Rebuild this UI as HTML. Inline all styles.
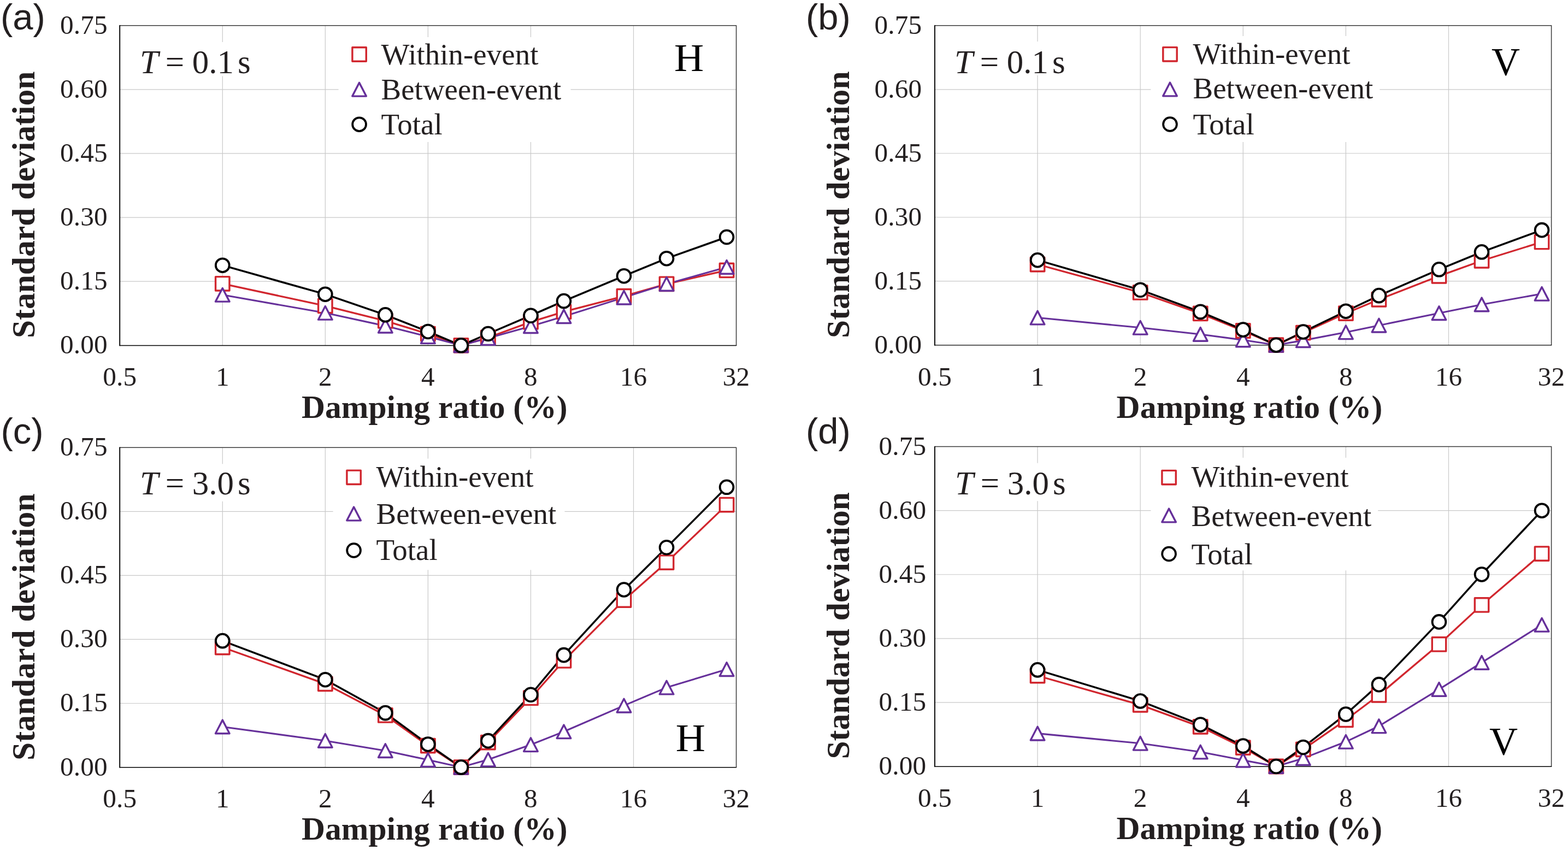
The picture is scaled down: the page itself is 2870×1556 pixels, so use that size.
<!DOCTYPE html>
<html><head><meta charset="utf-8"><title>Standard deviation vs damping ratio</title><style>
html,body{margin:0;padding:0;background:#fff;}
body{width:2870px;height:1556px;overflow:hidden;}
svg{display:block;}
text{fill:#231f20;}
.tk{font-family:"Liberation Serif","Times New Roman",serif;font-size:49.3px;letter-spacing:0.1px;}
.lg{font-family:"Liberation Serif","Times New Roman",serif;font-size:55px;}
.ti{font-family:"Liberation Serif","Times New Roman",serif;font-size:59.6px;font-weight:bold;}
.pl{font-family:"Liberation Sans",Arial,sans-serif;font-size:67px;}
.an{font-family:"Liberation Serif","Times New Roman",serif;font-size:61px;}
.hv{font-family:"Liberation Serif","Times New Roman",serif;font-size:72px;fill:#000;}
</style></head><body>
<svg width="2870" height="1556" viewBox="0 0 2870 1556">
<rect width="2870" height="1556" fill="#fff"/>
<g stroke="#c8c8c8" stroke-width="1.2"><line x1="407.27" y1="46.75" x2="407.27" y2="632.3"/><line x1="595.33" y1="46.75" x2="595.33" y2="632.3"/><line x1="783.4" y1="46.75" x2="783.4" y2="632.3"/><line x1="971.47" y1="46.75" x2="971.47" y2="632.3"/><line x1="1159.53" y1="46.75" x2="1159.53" y2="632.3"/><line x1="219.2" y1="515.19" x2="1347.6" y2="515.19"/><line x1="219.2" y1="398.08" x2="1347.6" y2="398.08"/><line x1="219.2" y1="280.97" x2="1347.6" y2="280.97"/><line x1="219.2" y1="163.86" x2="1347.6" y2="163.86"/></g>
<rect x="619.6" y="68" width="425" height="192" fill="#fff"/>
<rect x="250" y="77" width="220" height="62.4" fill="#fff"/>
<path d="M219.2,46.75 H1347.6 V632.5" fill="none" stroke="#3a3a3a" stroke-width="1.5" stroke-linejoin="round"/>
<path d="M219.2,632.5 H1347.6" fill="none" stroke="#000000" stroke-width="1.4" stroke-linecap="round"/>
<path d="M219.2,46.75 V632.5" fill="none" stroke="#000000" stroke-width="1.9" stroke-linecap="round"/>
<polyline points="407.27,519.33 595.33,559.93 705.35,587.41 783.4,611.22 843.94,632.3 893.41,618.01 971.47,589.36 1032.01,570.62 1142.02,542.2 1220.08,519.8 1330.09,494.89" fill="none" stroke="#d1262e" stroke-width="3.3" stroke-linejoin="round"/>
<polyline points="407.27,539.78 595.33,572.81 705.35,596.62 783.4,616.29 843.94,632.3 893.41,619.03 971.47,597.17 1032.01,579.21 1142.02,544.62 1220.08,519.87 1330.09,488.96" fill="none" stroke="#66309a" stroke-width="3.1" stroke-linejoin="round"/>
<polyline points="407.27,485.68 595.33,538.69 705.35,576.32 783.4,606.93 843.94,632.3 893.41,610.99 971.47,577.73 1032.01,551.1 1142.02,505.2 1220.08,473.19 1330.09,433.99" fill="none" stroke="#000000" stroke-width="3.5" stroke-linejoin="round"/>
<rect x="394.57" y="506.63" width="25.4" height="25.4" fill="#fff" stroke="#d1262e" stroke-width="3.4" stroke-linejoin="round"/>
<rect x="582.63" y="547.23" width="25.4" height="25.4" fill="#fff" stroke="#d1262e" stroke-width="3.4" stroke-linejoin="round"/>
<rect x="692.65" y="574.71" width="25.4" height="25.4" fill="#fff" stroke="#d1262e" stroke-width="3.4" stroke-linejoin="round"/>
<rect x="770.7" y="598.52" width="25.4" height="25.4" fill="#fff" stroke="#d1262e" stroke-width="3.4" stroke-linejoin="round"/>
<rect x="831.24" y="619.6" width="25.4" height="25.4" fill="#fff" stroke="#d1262e" stroke-width="3.4" stroke-linejoin="round"/>
<rect x="880.71" y="605.31" width="25.4" height="25.4" fill="#fff" stroke="#d1262e" stroke-width="3.4" stroke-linejoin="round"/>
<rect x="958.77" y="576.66" width="25.4" height="25.4" fill="#fff" stroke="#d1262e" stroke-width="3.4" stroke-linejoin="round"/>
<rect x="1019.31" y="557.92" width="25.4" height="25.4" fill="#fff" stroke="#d1262e" stroke-width="3.4" stroke-linejoin="round"/>
<rect x="1129.32" y="529.5" width="25.4" height="25.4" fill="#fff" stroke="#d1262e" stroke-width="3.4" stroke-linejoin="round"/>
<rect x="1207.38" y="507.1" width="25.4" height="25.4" fill="#fff" stroke="#d1262e" stroke-width="3.4" stroke-linejoin="round"/>
<rect x="1317.39" y="482.19" width="25.4" height="25.4" fill="#fff" stroke="#d1262e" stroke-width="3.4" stroke-linejoin="round"/>
<path d="M407.27,527.43 L420.07,552.13 L394.47,552.13 Z" fill="#fff" stroke="#66309a" stroke-width="3.4" stroke-linejoin="round"/>
<path d="M595.33,560.46 L608.13,585.16 L582.53,585.16 Z" fill="#fff" stroke="#66309a" stroke-width="3.4" stroke-linejoin="round"/>
<path d="M705.35,584.27 L718.15,608.97 L692.55,608.97 Z" fill="#fff" stroke="#66309a" stroke-width="3.4" stroke-linejoin="round"/>
<path d="M783.4,603.94 L796.2,628.64 L770.6,628.64 Z" fill="#fff" stroke="#66309a" stroke-width="3.4" stroke-linejoin="round"/>
<path d="M843.94,619.95 L856.74,644.65 L831.14,644.65 Z" fill="#fff" stroke="#66309a" stroke-width="3.4" stroke-linejoin="round"/>
<path d="M893.41,606.68 L906.21,631.38 L880.61,631.38 Z" fill="#fff" stroke="#66309a" stroke-width="3.4" stroke-linejoin="round"/>
<path d="M971.47,584.82 L984.27,609.52 L958.67,609.52 Z" fill="#fff" stroke="#66309a" stroke-width="3.4" stroke-linejoin="round"/>
<path d="M1032.01,566.86 L1044.81,591.56 L1019.21,591.56 Z" fill="#fff" stroke="#66309a" stroke-width="3.4" stroke-linejoin="round"/>
<path d="M1142.02,532.27 L1154.82,556.97 L1129.22,556.97 Z" fill="#fff" stroke="#66309a" stroke-width="3.4" stroke-linejoin="round"/>
<path d="M1220.08,507.52 L1232.88,532.22 L1207.28,532.22 Z" fill="#fff" stroke="#66309a" stroke-width="3.4" stroke-linejoin="round"/>
<path d="M1330.09,476.61 L1342.89,501.31 L1317.29,501.31 Z" fill="#fff" stroke="#66309a" stroke-width="3.4" stroke-linejoin="round"/>
<circle cx="407.27" cy="485.68" r="12.4" fill="#fff" stroke="#000000" stroke-width="3.8"/>
<circle cx="595.33" cy="538.69" r="12.4" fill="#fff" stroke="#000000" stroke-width="3.8"/>
<circle cx="705.35" cy="576.32" r="12.4" fill="#fff" stroke="#000000" stroke-width="3.8"/>
<circle cx="783.4" cy="606.93" r="12.4" fill="#fff" stroke="#000000" stroke-width="3.8"/>
<circle cx="843.94" cy="632.3" r="12.4" fill="#fff" stroke="#000000" stroke-width="3.8"/>
<circle cx="893.41" cy="610.99" r="12.4" fill="#fff" stroke="#000000" stroke-width="3.8"/>
<circle cx="971.47" cy="577.73" r="12.4" fill="#fff" stroke="#000000" stroke-width="3.8"/>
<circle cx="1032.01" cy="551.1" r="12.4" fill="#fff" stroke="#000000" stroke-width="3.8"/>
<circle cx="1142.02" cy="505.2" r="12.4" fill="#fff" stroke="#000000" stroke-width="3.8"/>
<circle cx="1220.08" cy="473.19" r="12.4" fill="#fff" stroke="#000000" stroke-width="3.8"/>
<circle cx="1330.09" cy="433.99" r="12.4" fill="#fff" stroke="#000000" stroke-width="3.8"/>
<rect x="644.9" y="86.8" width="25.4" height="25.4" fill="#fff" stroke="#d1262e" stroke-width="3.4" stroke-linejoin="round"/>
<path d="M657.6,151.4 L670.4,176.1 L644.8,176.1 Z" fill="#fff" stroke="#66309a" stroke-width="3.4" stroke-linejoin="round"/>
<circle cx="657.6" cy="227.7" r="12.4" fill="#fff" stroke="#000000" stroke-width="3.8"/>
<text x="697.5" y="118.3" class="lg">Within-event</text>
<text x="697.5" y="181.6" class="lg">Between-event</text>
<text x="697.5" y="246.3" class="lg">Total</text>
<text x="110" y="647.2" class="tk">0.00</text>
<text x="110" y="530.09" class="tk">0.15</text>
<text x="110" y="412.98" class="tk">0.30</text>
<text x="110" y="295.87" class="tk">0.45</text>
<text x="110" y="178.76" class="tk">0.60</text>
<text x="110" y="61.65" class="tk">0.75</text>
<text x="219.2" y="705.7" class="tk" text-anchor="middle">0.5</text>
<text x="407.27" y="705.7" class="tk" text-anchor="middle">1</text>
<text x="595.33" y="705.7" class="tk" text-anchor="middle">2</text>
<text x="783.4" y="705.7" class="tk" text-anchor="middle">4</text>
<text x="971.47" y="705.7" class="tk" text-anchor="middle">8</text>
<text x="1159.53" y="705.7" class="tk" text-anchor="middle">16</text>
<text x="1347.6" y="705.7" class="tk" text-anchor="middle">32</text>
<text x="552" y="765" class="ti">Damping ratio (%)</text>
<text transform="translate(62.7,619.1) rotate(-90)" class="ti">Standard deviation</text>
<text x="1" y="54.1" class="pl">(a)</text>
<text x="256" y="133.8" class="an"><tspan font-style="italic">T</tspan></text>
<text x="302.7" y="133.8" class="an">=</text>
<text x="351.8" y="133.8" class="an">0.1</text>
<text x="434.9" y="133.8" class="an">s</text>
<text x="1233.9" y="129.7" class="hv" textLength="54.3" lengthAdjust="spacingAndGlyphs">H</text>
<g stroke="#c8c8c8" stroke-width="1.2"><line x1="1899.1" y1="46.8" x2="1899.1" y2="631.7"/><line x1="2087.2" y1="46.8" x2="2087.2" y2="631.7"/><line x1="2275.3" y1="46.8" x2="2275.3" y2="631.7"/><line x1="2463.4" y1="46.8" x2="2463.4" y2="631.7"/><line x1="2651.5" y1="46.8" x2="2651.5" y2="631.7"/><line x1="1711" y1="514.72" x2="2839.6" y2="514.72"/><line x1="1711" y1="397.74" x2="2839.6" y2="397.74"/><line x1="1711" y1="280.76" x2="2839.6" y2="280.76"/><line x1="1711" y1="163.78" x2="2839.6" y2="163.78"/></g>
<rect x="2106.4" y="66" width="419" height="194" fill="#fff"/>
<rect x="1742" y="76" width="220" height="62" fill="#fff"/>
<path d="M1711,46.8 H2839.6 V631.9" fill="none" stroke="#3a3a3a" stroke-width="1.5" stroke-linejoin="round"/>
<path d="M1711,631.9 H2839.6" fill="none" stroke="#000000" stroke-width="1.4" stroke-linecap="round"/>
<path d="M1711,46.8 V631.9" fill="none" stroke="#000000" stroke-width="1.9" stroke-linecap="round"/>
<polyline points="1899.1,483.99 2087.2,535.46 2197.23,573.91 2275.3,605.5 2335.85,631.7 2385.33,609.08 2463.4,573.6 2523.95,548.25 2633.99,505.36 2712.05,477.29 2822.09,442.97" fill="none" stroke="#d1262e" stroke-width="3.3" stroke-linejoin="round"/>
<polyline points="1899.1,581.55 2087.2,599.8 2197.23,611.97 2275.3,622.34 2335.85,631.7 2385.33,623.12 2463.4,608.3 2523.95,595.67 2633.99,573.21 2712.05,557.46 2822.09,537.8" fill="none" stroke="#66309a" stroke-width="3.1" stroke-linejoin="round"/>
<polyline points="1899.1,476.19 2087.2,530.71 2197.23,570.79 2275.3,603.62 2335.85,631.7 2385.33,607.52 2463.4,569.7 2523.95,541.08 2633.99,493.27 2712.05,461.3 2822.09,421.14" fill="none" stroke="#000000" stroke-width="3.5" stroke-linejoin="round"/>
<rect x="1886.4" y="471.29" width="25.4" height="25.4" fill="#fff" stroke="#d1262e" stroke-width="3.4" stroke-linejoin="round"/>
<rect x="2074.5" y="522.76" width="25.4" height="25.4" fill="#fff" stroke="#d1262e" stroke-width="3.4" stroke-linejoin="round"/>
<rect x="2184.53" y="561.21" width="25.4" height="25.4" fill="#fff" stroke="#d1262e" stroke-width="3.4" stroke-linejoin="round"/>
<rect x="2262.6" y="592.8" width="25.4" height="25.4" fill="#fff" stroke="#d1262e" stroke-width="3.4" stroke-linejoin="round"/>
<rect x="2323.15" y="619" width="25.4" height="25.4" fill="#fff" stroke="#d1262e" stroke-width="3.4" stroke-linejoin="round"/>
<rect x="2372.63" y="596.38" width="25.4" height="25.4" fill="#fff" stroke="#d1262e" stroke-width="3.4" stroke-linejoin="round"/>
<rect x="2450.7" y="560.9" width="25.4" height="25.4" fill="#fff" stroke="#d1262e" stroke-width="3.4" stroke-linejoin="round"/>
<rect x="2511.25" y="535.55" width="25.4" height="25.4" fill="#fff" stroke="#d1262e" stroke-width="3.4" stroke-linejoin="round"/>
<rect x="2621.29" y="492.66" width="25.4" height="25.4" fill="#fff" stroke="#d1262e" stroke-width="3.4" stroke-linejoin="round"/>
<rect x="2699.35" y="464.59" width="25.4" height="25.4" fill="#fff" stroke="#d1262e" stroke-width="3.4" stroke-linejoin="round"/>
<rect x="2809.39" y="430.27" width="25.4" height="25.4" fill="#fff" stroke="#d1262e" stroke-width="3.4" stroke-linejoin="round"/>
<path d="M1899.1,569.2 L1911.9,593.9 L1886.3,593.9 Z" fill="#fff" stroke="#66309a" stroke-width="3.4" stroke-linejoin="round"/>
<path d="M2087.2,587.45 L2100,612.15 L2074.4,612.15 Z" fill="#fff" stroke="#66309a" stroke-width="3.4" stroke-linejoin="round"/>
<path d="M2197.23,599.62 L2210.03,624.32 L2184.43,624.32 Z" fill="#fff" stroke="#66309a" stroke-width="3.4" stroke-linejoin="round"/>
<path d="M2275.3,609.99 L2288.1,634.69 L2262.5,634.69 Z" fill="#fff" stroke="#66309a" stroke-width="3.4" stroke-linejoin="round"/>
<path d="M2335.85,619.35 L2348.65,644.05 L2323.05,644.05 Z" fill="#fff" stroke="#66309a" stroke-width="3.4" stroke-linejoin="round"/>
<path d="M2385.33,610.77 L2398.13,635.47 L2372.53,635.47 Z" fill="#fff" stroke="#66309a" stroke-width="3.4" stroke-linejoin="round"/>
<path d="M2463.4,595.95 L2476.2,620.65 L2450.6,620.65 Z" fill="#fff" stroke="#66309a" stroke-width="3.4" stroke-linejoin="round"/>
<path d="M2523.95,583.32 L2536.75,608.02 L2511.15,608.02 Z" fill="#fff" stroke="#66309a" stroke-width="3.4" stroke-linejoin="round"/>
<path d="M2633.99,560.86 L2646.79,585.56 L2621.19,585.56 Z" fill="#fff" stroke="#66309a" stroke-width="3.4" stroke-linejoin="round"/>
<path d="M2712.05,545.11 L2724.85,569.81 L2699.25,569.81 Z" fill="#fff" stroke="#66309a" stroke-width="3.4" stroke-linejoin="round"/>
<path d="M2822.09,525.45 L2834.89,550.15 L2809.29,550.15 Z" fill="#fff" stroke="#66309a" stroke-width="3.4" stroke-linejoin="round"/>
<circle cx="1899.1" cy="476.19" r="12.4" fill="#fff" stroke="#000000" stroke-width="3.8"/>
<circle cx="2087.2" cy="530.71" r="12.4" fill="#fff" stroke="#000000" stroke-width="3.8"/>
<circle cx="2197.23" cy="570.79" r="12.4" fill="#fff" stroke="#000000" stroke-width="3.8"/>
<circle cx="2275.3" cy="603.62" r="12.4" fill="#fff" stroke="#000000" stroke-width="3.8"/>
<circle cx="2335.85" cy="631.7" r="12.4" fill="#fff" stroke="#000000" stroke-width="3.8"/>
<circle cx="2385.33" cy="607.52" r="12.4" fill="#fff" stroke="#000000" stroke-width="3.8"/>
<circle cx="2463.4" cy="569.7" r="12.4" fill="#fff" stroke="#000000" stroke-width="3.8"/>
<circle cx="2523.95" cy="541.08" r="12.4" fill="#fff" stroke="#000000" stroke-width="3.8"/>
<circle cx="2633.99" cy="493.27" r="12.4" fill="#fff" stroke="#000000" stroke-width="3.8"/>
<circle cx="2712.05" cy="461.3" r="12.4" fill="#fff" stroke="#000000" stroke-width="3.8"/>
<circle cx="2822.09" cy="421.14" r="12.4" fill="#fff" stroke="#000000" stroke-width="3.8"/>
<rect x="2128.8" y="86.6" width="25.4" height="25.4" fill="#fff" stroke="#d1262e" stroke-width="3.4" stroke-linejoin="round"/>
<path d="M2141.5,151.15 L2154.3,175.85 L2128.7,175.85 Z" fill="#fff" stroke="#66309a" stroke-width="3.4" stroke-linejoin="round"/>
<circle cx="2141.5" cy="227.5" r="12.4" fill="#fff" stroke="#000000" stroke-width="3.8"/>
<text x="2183.5" y="116.8" class="lg">Within-event</text>
<text x="2183.5" y="180.4" class="lg">Between-event</text>
<text x="2183.5" y="245.6" class="lg">Total</text>
<text x="1600.5" y="646.6" class="tk">0.00</text>
<text x="1600.5" y="529.62" class="tk">0.15</text>
<text x="1600.5" y="412.64" class="tk">0.30</text>
<text x="1600.5" y="295.66" class="tk">0.45</text>
<text x="1600.5" y="178.68" class="tk">0.60</text>
<text x="1600.5" y="61.7" class="tk">0.75</text>
<text x="1711" y="705.8" class="tk" text-anchor="middle">0.5</text>
<text x="1899.1" y="705.8" class="tk" text-anchor="middle">1</text>
<text x="2087.2" y="705.8" class="tk" text-anchor="middle">2</text>
<text x="2275.3" y="705.8" class="tk" text-anchor="middle">4</text>
<text x="2463.4" y="705.8" class="tk" text-anchor="middle">8</text>
<text x="2651.5" y="705.8" class="tk" text-anchor="middle">16</text>
<text x="2839.6" y="705.8" class="tk" text-anchor="middle">32</text>
<text x="2043.6" y="764.6" class="ti">Damping ratio (%)</text>
<text transform="translate(1553.6,618.9) rotate(-90)" class="ti">Standard deviation</text>
<text x="1475" y="53.6" class="pl">(b)</text>
<text x="1747" y="133.5" class="an"><tspan font-style="italic">T</tspan></text>
<text x="1793.7" y="133.5" class="an">=</text>
<text x="1842.8" y="133.5" class="an">0.1</text>
<text x="1925.9" y="133.5" class="an">s</text>
<text x="2730" y="137.2" class="hv">V</text>
<g stroke="#c8c8c8" stroke-width="1.2"><line x1="407.27" y1="819.2" x2="407.27" y2="1404.6"/><line x1="595.33" y1="819.2" x2="595.33" y2="1404.6"/><line x1="783.4" y1="819.2" x2="783.4" y2="1404.6"/><line x1="971.47" y1="819.2" x2="971.47" y2="1404.6"/><line x1="1159.53" y1="819.2" x2="1159.53" y2="1404.6"/><line x1="219.2" y1="1287.52" x2="1347.6" y2="1287.52"/><line x1="219.2" y1="1170.44" x2="1347.6" y2="1170.44"/><line x1="219.2" y1="1053.36" x2="1347.6" y2="1053.36"/><line x1="219.2" y1="936.28" x2="1347.6" y2="936.28"/></g>
<rect x="609.6" y="839.6" width="423.9" height="203.7" fill="#fff"/>
<rect x="250" y="849.3" width="220" height="68.5" fill="#fff"/>
<path d="M219.2,819.2 H1347.6 V1404.8" fill="none" stroke="#3a3a3a" stroke-width="1.5" stroke-linejoin="round"/>
<path d="M219.2,1404.8 H1347.6" fill="none" stroke="#000000" stroke-width="1.4" stroke-linecap="round"/>
<path d="M219.2,819.2 V1404.8" fill="none" stroke="#000000" stroke-width="1.9" stroke-linecap="round"/>
<polyline points="407.27,1185.04 595.33,1251.85 705.35,1309.45 783.4,1365.03 843.94,1404.6 893.41,1359.09 971.47,1277.69 1032.01,1209.39 1142.02,1098.55 1220.08,1029.55 1330.09,924.1" fill="none" stroke="#d1262e" stroke-width="3.3" stroke-linejoin="round"/>
<polyline points="407.27,1330.45 595.33,1355.97 705.35,1374.16 783.4,1391.02 843.94,1404.6 893.41,1390.55 971.47,1363.23 1032.01,1339.27 1142.02,1291.58 1220.08,1258.56 1330.09,1225.16" fill="none" stroke="#66309a" stroke-width="3.1" stroke-linejoin="round"/>
<polyline points="407.27,1173.09 595.33,1244.2 705.35,1305.08 783.4,1362.45 843.94,1404.6 893.41,1356.13 971.47,1271.75 1032.01,1199.16 1142.02,1079.43 1220.08,1002.24 1330.09,891.79" fill="none" stroke="#000000" stroke-width="3.5" stroke-linejoin="round"/>
<rect x="394.57" y="1172.34" width="25.4" height="25.4" fill="#fff" stroke="#d1262e" stroke-width="3.4" stroke-linejoin="round"/>
<rect x="582.63" y="1239.15" width="25.4" height="25.4" fill="#fff" stroke="#d1262e" stroke-width="3.4" stroke-linejoin="round"/>
<rect x="692.65" y="1296.75" width="25.4" height="25.4" fill="#fff" stroke="#d1262e" stroke-width="3.4" stroke-linejoin="round"/>
<rect x="770.7" y="1352.33" width="25.4" height="25.4" fill="#fff" stroke="#d1262e" stroke-width="3.4" stroke-linejoin="round"/>
<rect x="831.24" y="1391.9" width="25.4" height="25.4" fill="#fff" stroke="#d1262e" stroke-width="3.4" stroke-linejoin="round"/>
<rect x="880.71" y="1346.39" width="25.4" height="25.4" fill="#fff" stroke="#d1262e" stroke-width="3.4" stroke-linejoin="round"/>
<rect x="958.77" y="1264.99" width="25.4" height="25.4" fill="#fff" stroke="#d1262e" stroke-width="3.4" stroke-linejoin="round"/>
<rect x="1019.31" y="1196.69" width="25.4" height="25.4" fill="#fff" stroke="#d1262e" stroke-width="3.4" stroke-linejoin="round"/>
<rect x="1129.32" y="1085.85" width="25.4" height="25.4" fill="#fff" stroke="#d1262e" stroke-width="3.4" stroke-linejoin="round"/>
<rect x="1207.38" y="1016.85" width="25.4" height="25.4" fill="#fff" stroke="#d1262e" stroke-width="3.4" stroke-linejoin="round"/>
<rect x="1317.39" y="911.4" width="25.4" height="25.4" fill="#fff" stroke="#d1262e" stroke-width="3.4" stroke-linejoin="round"/>
<path d="M407.27,1318.1 L420.07,1342.8 L394.47,1342.8 Z" fill="#fff" stroke="#66309a" stroke-width="3.4" stroke-linejoin="round"/>
<path d="M595.33,1343.62 L608.13,1368.32 L582.53,1368.32 Z" fill="#fff" stroke="#66309a" stroke-width="3.4" stroke-linejoin="round"/>
<path d="M705.35,1361.81 L718.15,1386.51 L692.55,1386.51 Z" fill="#fff" stroke="#66309a" stroke-width="3.4" stroke-linejoin="round"/>
<path d="M783.4,1378.67 L796.2,1403.37 L770.6,1403.37 Z" fill="#fff" stroke="#66309a" stroke-width="3.4" stroke-linejoin="round"/>
<path d="M843.94,1392.25 L856.74,1416.95 L831.14,1416.95 Z" fill="#fff" stroke="#66309a" stroke-width="3.4" stroke-linejoin="round"/>
<path d="M893.41,1378.2 L906.21,1402.9 L880.61,1402.9 Z" fill="#fff" stroke="#66309a" stroke-width="3.4" stroke-linejoin="round"/>
<path d="M971.47,1350.88 L984.27,1375.58 L958.67,1375.58 Z" fill="#fff" stroke="#66309a" stroke-width="3.4" stroke-linejoin="round"/>
<path d="M1032.01,1326.92 L1044.81,1351.62 L1019.21,1351.62 Z" fill="#fff" stroke="#66309a" stroke-width="3.4" stroke-linejoin="round"/>
<path d="M1142.02,1279.23 L1154.82,1303.93 L1129.22,1303.93 Z" fill="#fff" stroke="#66309a" stroke-width="3.4" stroke-linejoin="round"/>
<path d="M1220.08,1246.21 L1232.88,1270.91 L1207.28,1270.91 Z" fill="#fff" stroke="#66309a" stroke-width="3.4" stroke-linejoin="round"/>
<path d="M1330.09,1212.81 L1342.89,1237.51 L1317.29,1237.51 Z" fill="#fff" stroke="#66309a" stroke-width="3.4" stroke-linejoin="round"/>
<circle cx="407.27" cy="1173.09" r="12.4" fill="#fff" stroke="#000000" stroke-width="3.8"/>
<circle cx="595.33" cy="1244.2" r="12.4" fill="#fff" stroke="#000000" stroke-width="3.8"/>
<circle cx="705.35" cy="1305.08" r="12.4" fill="#fff" stroke="#000000" stroke-width="3.8"/>
<circle cx="783.4" cy="1362.45" r="12.4" fill="#fff" stroke="#000000" stroke-width="3.8"/>
<circle cx="843.94" cy="1404.6" r="12.4" fill="#fff" stroke="#000000" stroke-width="3.8"/>
<circle cx="893.41" cy="1356.13" r="12.4" fill="#fff" stroke="#000000" stroke-width="3.8"/>
<circle cx="971.47" cy="1271.75" r="12.4" fill="#fff" stroke="#000000" stroke-width="3.8"/>
<circle cx="1032.01" cy="1199.16" r="12.4" fill="#fff" stroke="#000000" stroke-width="3.8"/>
<circle cx="1142.02" cy="1079.43" r="12.4" fill="#fff" stroke="#000000" stroke-width="3.8"/>
<circle cx="1220.08" cy="1002.24" r="12.4" fill="#fff" stroke="#000000" stroke-width="3.8"/>
<circle cx="1330.09" cy="891.79" r="12.4" fill="#fff" stroke="#000000" stroke-width="3.8"/>
<rect x="634.9" y="861.1" width="25.4" height="25.4" fill="#fff" stroke="#d1262e" stroke-width="3.4" stroke-linejoin="round"/>
<path d="M647.6,928.15 L660.4,952.85 L634.8,952.85 Z" fill="#fff" stroke="#66309a" stroke-width="3.4" stroke-linejoin="round"/>
<circle cx="647.6" cy="1007.5" r="12.4" fill="#fff" stroke="#000000" stroke-width="3.8"/>
<text x="688.5" y="891.1" class="lg">Within-event</text>
<text x="688.5" y="958.6" class="lg">Between-event</text>
<text x="688.5" y="1025.4" class="lg">Total</text>
<text x="110" y="1419.5" class="tk">0.00</text>
<text x="110" y="1302.42" class="tk">0.15</text>
<text x="110" y="1185.34" class="tk">0.30</text>
<text x="110" y="1068.26" class="tk">0.45</text>
<text x="110" y="951.18" class="tk">0.60</text>
<text x="110" y="834.1" class="tk">0.75</text>
<text x="219.2" y="1478.2" class="tk" text-anchor="middle">0.5</text>
<text x="407.27" y="1478.2" class="tk" text-anchor="middle">1</text>
<text x="595.33" y="1478.2" class="tk" text-anchor="middle">2</text>
<text x="783.4" y="1478.2" class="tk" text-anchor="middle">4</text>
<text x="971.47" y="1478.2" class="tk" text-anchor="middle">8</text>
<text x="1159.53" y="1478.2" class="tk" text-anchor="middle">16</text>
<text x="1347.6" y="1478.2" class="tk" text-anchor="middle">32</text>
<text x="552" y="1536.5" class="ti">Damping ratio (%)</text>
<text transform="translate(62.7,1391.9) rotate(-90)" class="ti">Standard deviation</text>
<text x="1.45" y="811.8" class="pl">(c)</text>
<text x="256" y="905.4" class="an"><tspan font-style="italic">T</tspan></text>
<text x="302.7" y="905.4" class="an">=</text>
<text x="351.8" y="905.4" class="an">3.0</text>
<text x="434.9" y="905.4" class="an">s</text>
<text x="1236.7" y="1375.3" class="hv" textLength="54.3" lengthAdjust="spacingAndGlyphs">H</text>
<g stroke="#c8c8c8" stroke-width="1.2"><line x1="1899.1" y1="817.6" x2="1899.1" y2="1403"/><line x1="2087.2" y1="817.6" x2="2087.2" y2="1403"/><line x1="2275.3" y1="817.6" x2="2275.3" y2="1403"/><line x1="2463.4" y1="817.6" x2="2463.4" y2="1403"/><line x1="2651.5" y1="817.6" x2="2651.5" y2="1403"/><line x1="1711" y1="1285.92" x2="2839.6" y2="1285.92"/><line x1="1711" y1="1168.84" x2="2839.6" y2="1168.84"/><line x1="1711" y1="1051.76" x2="2839.6" y2="1051.76"/><line x1="1711" y1="934.68" x2="2839.6" y2="934.68"/></g>
<rect x="2106.5" y="837.9" width="415.7" height="206.4" fill="#fff"/>
<rect x="1742" y="847.7" width="220" height="69.5" fill="#fff"/>
<path d="M1711,817.6 H2839.6 V1403.2" fill="none" stroke="#3a3a3a" stroke-width="1.5" stroke-linejoin="round"/>
<path d="M1711,1403.2 H2839.6" fill="none" stroke="#000000" stroke-width="1.4" stroke-linecap="round"/>
<path d="M1711,817.6 V1403.2" fill="none" stroke="#000000" stroke-width="1.9" stroke-linecap="round"/>
<polyline points="1899.1,1236.98 2087.2,1290.37 2197.23,1330.33 2275.3,1368.58 2335.85,1403 2385.33,1371.86 2463.4,1317.77 2523.95,1272.26 2633.99,1179.46 2712.05,1107.41 2822.09,1013.59" fill="none" stroke="#d1262e" stroke-width="3.3" stroke-linejoin="round"/>
<polyline points="1899.1,1342.59 2087.2,1360.77 2197.23,1376.54 2275.3,1391.6 2335.85,1403 2385.33,1388.17 2463.4,1357.81 2523.95,1329.24 2633.99,1261.88 2712.05,1212.86 2822.09,1143.78" fill="none" stroke="#66309a" stroke-width="3.1" stroke-linejoin="round"/>
<polyline points="1899.1,1226.37 2087.2,1283.34 2197.23,1326.43 2275.3,1365.53 2335.85,1403 2385.33,1367.95 2463.4,1307.46 2523.95,1253.14 2633.99,1138.4 2712.05,1051.45 2822.09,934.68" fill="none" stroke="#000000" stroke-width="3.5" stroke-linejoin="round"/>
<rect x="1886.4" y="1224.28" width="25.4" height="25.4" fill="#fff" stroke="#d1262e" stroke-width="3.4" stroke-linejoin="round"/>
<rect x="2074.5" y="1277.67" width="25.4" height="25.4" fill="#fff" stroke="#d1262e" stroke-width="3.4" stroke-linejoin="round"/>
<rect x="2184.53" y="1317.63" width="25.4" height="25.4" fill="#fff" stroke="#d1262e" stroke-width="3.4" stroke-linejoin="round"/>
<rect x="2262.6" y="1355.88" width="25.4" height="25.4" fill="#fff" stroke="#d1262e" stroke-width="3.4" stroke-linejoin="round"/>
<rect x="2323.15" y="1390.3" width="25.4" height="25.4" fill="#fff" stroke="#d1262e" stroke-width="3.4" stroke-linejoin="round"/>
<rect x="2372.63" y="1359.16" width="25.4" height="25.4" fill="#fff" stroke="#d1262e" stroke-width="3.4" stroke-linejoin="round"/>
<rect x="2450.7" y="1305.07" width="25.4" height="25.4" fill="#fff" stroke="#d1262e" stroke-width="3.4" stroke-linejoin="round"/>
<rect x="2511.25" y="1259.56" width="25.4" height="25.4" fill="#fff" stroke="#d1262e" stroke-width="3.4" stroke-linejoin="round"/>
<rect x="2621.29" y="1166.76" width="25.4" height="25.4" fill="#fff" stroke="#d1262e" stroke-width="3.4" stroke-linejoin="round"/>
<rect x="2699.35" y="1094.71" width="25.4" height="25.4" fill="#fff" stroke="#d1262e" stroke-width="3.4" stroke-linejoin="round"/>
<rect x="2809.39" y="1000.89" width="25.4" height="25.4" fill="#fff" stroke="#d1262e" stroke-width="3.4" stroke-linejoin="round"/>
<path d="M1899.1,1330.24 L1911.9,1354.94 L1886.3,1354.94 Z" fill="#fff" stroke="#66309a" stroke-width="3.4" stroke-linejoin="round"/>
<path d="M2087.2,1348.42 L2100,1373.12 L2074.4,1373.12 Z" fill="#fff" stroke="#66309a" stroke-width="3.4" stroke-linejoin="round"/>
<path d="M2197.23,1364.19 L2210.03,1388.89 L2184.43,1388.89 Z" fill="#fff" stroke="#66309a" stroke-width="3.4" stroke-linejoin="round"/>
<path d="M2275.3,1379.25 L2288.1,1403.95 L2262.5,1403.95 Z" fill="#fff" stroke="#66309a" stroke-width="3.4" stroke-linejoin="round"/>
<path d="M2335.85,1390.65 L2348.65,1415.35 L2323.05,1415.35 Z" fill="#fff" stroke="#66309a" stroke-width="3.4" stroke-linejoin="round"/>
<path d="M2385.33,1375.82 L2398.13,1400.52 L2372.53,1400.52 Z" fill="#fff" stroke="#66309a" stroke-width="3.4" stroke-linejoin="round"/>
<path d="M2463.4,1345.46 L2476.2,1370.16 L2450.6,1370.16 Z" fill="#fff" stroke="#66309a" stroke-width="3.4" stroke-linejoin="round"/>
<path d="M2523.95,1316.89 L2536.75,1341.59 L2511.15,1341.59 Z" fill="#fff" stroke="#66309a" stroke-width="3.4" stroke-linejoin="round"/>
<path d="M2633.99,1249.53 L2646.79,1274.23 L2621.19,1274.23 Z" fill="#fff" stroke="#66309a" stroke-width="3.4" stroke-linejoin="round"/>
<path d="M2712.05,1200.51 L2724.85,1225.21 L2699.25,1225.21 Z" fill="#fff" stroke="#66309a" stroke-width="3.4" stroke-linejoin="round"/>
<path d="M2822.09,1131.43 L2834.89,1156.13 L2809.29,1156.13 Z" fill="#fff" stroke="#66309a" stroke-width="3.4" stroke-linejoin="round"/>
<circle cx="1899.1" cy="1226.37" r="12.4" fill="#fff" stroke="#000000" stroke-width="3.8"/>
<circle cx="2087.2" cy="1283.34" r="12.4" fill="#fff" stroke="#000000" stroke-width="3.8"/>
<circle cx="2197.23" cy="1326.43" r="12.4" fill="#fff" stroke="#000000" stroke-width="3.8"/>
<circle cx="2275.3" cy="1365.53" r="12.4" fill="#fff" stroke="#000000" stroke-width="3.8"/>
<circle cx="2335.85" cy="1403" r="12.4" fill="#fff" stroke="#000000" stroke-width="3.8"/>
<circle cx="2385.33" cy="1367.95" r="12.4" fill="#fff" stroke="#000000" stroke-width="3.8"/>
<circle cx="2463.4" cy="1307.46" r="12.4" fill="#fff" stroke="#000000" stroke-width="3.8"/>
<circle cx="2523.95" cy="1253.14" r="12.4" fill="#fff" stroke="#000000" stroke-width="3.8"/>
<circle cx="2633.99" cy="1138.4" r="12.4" fill="#fff" stroke="#000000" stroke-width="3.8"/>
<circle cx="2712.05" cy="1051.45" r="12.4" fill="#fff" stroke="#000000" stroke-width="3.8"/>
<circle cx="2822.09" cy="934.68" r="12.4" fill="#fff" stroke="#000000" stroke-width="3.8"/>
<rect x="2126.9" y="861.4" width="25.4" height="25.4" fill="#fff" stroke="#d1262e" stroke-width="3.4" stroke-linejoin="round"/>
<path d="M2139.6,931.15 L2152.4,955.85 L2126.8,955.85 Z" fill="#fff" stroke="#66309a" stroke-width="3.4" stroke-linejoin="round"/>
<circle cx="2139.6" cy="1014" r="12.4" fill="#fff" stroke="#000000" stroke-width="3.8"/>
<text x="2180.5" y="891.1" class="lg">Within-event</text>
<text x="2180.5" y="962.5" class="lg">Between-event</text>
<text x="2180.5" y="1032.6" class="lg">Total</text>
<text x="1608.6" y="1417.9" class="tk">0.00</text>
<text x="1608.6" y="1300.82" class="tk">0.15</text>
<text x="1608.6" y="1183.74" class="tk">0.30</text>
<text x="1608.6" y="1066.66" class="tk">0.45</text>
<text x="1608.6" y="949.58" class="tk">0.60</text>
<text x="1608.6" y="832.5" class="tk">0.75</text>
<text x="1711" y="1477.3" class="tk" text-anchor="middle">0.5</text>
<text x="1899.1" y="1477.3" class="tk" text-anchor="middle">1</text>
<text x="2087.2" y="1477.3" class="tk" text-anchor="middle">2</text>
<text x="2275.3" y="1477.3" class="tk" text-anchor="middle">4</text>
<text x="2463.4" y="1477.3" class="tk" text-anchor="middle">8</text>
<text x="2651.5" y="1477.3" class="tk" text-anchor="middle">16</text>
<text x="2839.6" y="1477.3" class="tk" text-anchor="middle">32</text>
<text x="2043.4" y="1535.6" class="ti">Damping ratio (%)</text>
<text transform="translate(1553.6,1389.6) rotate(-90)" class="ti">Standard deviation</text>
<text x="1475" y="811.9" class="pl">(d)</text>
<text x="1748" y="904.8" class="an"><tspan font-style="italic">T</tspan></text>
<text x="1794.7" y="904.8" class="an">=</text>
<text x="1843.8" y="904.8" class="an">3.0</text>
<text x="1926.9" y="904.8" class="an">s</text>
<text x="2726" y="1380.5" class="hv">V</text>
</svg>
</body></html>
